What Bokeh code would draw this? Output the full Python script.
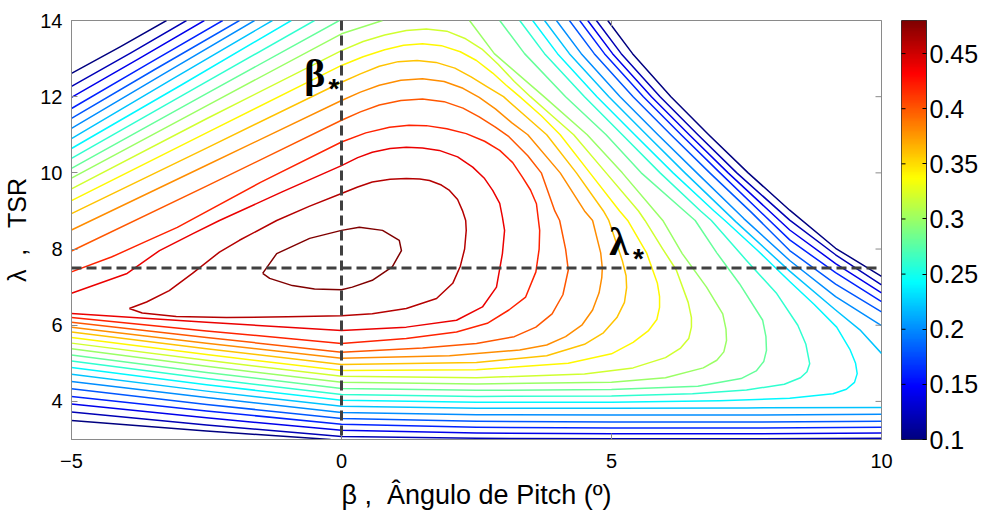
import math
import numpy as np
from bokeh.plotting import figure
from bokeh.layouts import row
from bokeh.models import (Span, Label, LinearColorMapper, FixedTicker,
                          CustomJSTickFormatter, Range1d)
from bokeh.embed import file_html
from bokeh.resources import INLINE

# ---------------- data ----------------
levels = [0.10, 0.12, 0.14, 0.16, 0.18, 0.20, 0.22, 0.24, 0.26, 0.28,
          0.30, 0.32, 0.34, 0.36, 0.38, 0.40, 0.42, 0.44, 0.46, 0.48]
x_ticks = [-5, 0, 5, 10]
y_ticks = [4, 6, 8, 10, 12, 14]
cbar_ticks = [0.1, 0.15, 0.2, 0.25, 0.3, 0.35, 0.4, 0.45]
beta_star = 0.0
lambda_star = 7.5

# contour paths per level: lists of (beta, lambda) points
cp_010 = [
    [(-5.0, 12.61), (-4.1, 13.31), (-3.24, 14.0)],
    [(4.93, 14.0), (5.39, 13.13), (6.10, 12.0), (6.80, 11.0), (7.53, 10.0), (8.30, 9.02),
     (9.15, 8.02), (10.0, 7.28)],
    [(-5.0, 3.50), (-2.5, 3.22), (-0.2, 3.0)],
]
cp_012 = [
    [(-5.0, 12.27), (-3.9, 13.15), (-2.87, 14.0)],
    [(4.72, 14.0), (5.18, 13.13), (5.90, 12.0), (6.60, 11.0), (7.32, 10.0), (8.30, 8.76),
     (9.15, 7.85), (10.0, 7.06)],
    [(-5.0, 3.72), (-2.5, 3.38), (0.0, 3.08), (2.5, 3.03), (5.0, 3.02), (7.5, 3.02), (10.0, 3.03)],
]
cp_014 = [
    [(-5.0, 11.98), (-3.75, 13.0), (-2.54, 14.0)],
    [(4.56, 14.0), (5.02, 13.13), (5.74, 12.0), (6.44, 11.0), (7.16, 10.0), (8.30, 8.50),
     (9.15, 7.62), (10.0, 6.85)],
    [(-5.0, 3.93), (-2.5, 3.57), (0.0, 3.24), (2.5, 3.17), (5.0, 3.15), (7.5, 3.15), (10.0, 3.17)],
]
cp_016 = [
    [(-5.0, 11.69), (-3.6, 12.85), (-2.20, 14.0)],
    [(4.41, 14.0), (4.87, 13.13), (5.59, 12.0), (6.29, 11.0), (7.01, 10.0), (8.30, 8.24),
     (9.15, 7.38), (10.0, 6.62)],
    [(-5.0, 4.13), (-2.5, 3.75), (0.0, 3.40), (2.5, 3.32), (5.0, 3.30), (7.5, 3.30), (10.0, 3.32)],
]
cp_018 = [
    [(-5.0, 11.43), (-3.45, 12.72), (-1.89, 14.0)],
    [(4.22, 14.0), (4.68, 13.13), (5.40, 12.0), (6.10, 11.0), (6.82, 10.0), (7.6, 8.95),
     (8.30, 7.96), (9.15, 7.08), (10.0, 6.35)],
    [(-5.0, 4.33), (-2.5, 3.92), (0.0, 3.55), (2.5, 3.48), (5.0, 3.46), (7.5, 3.46), (10.0, 3.48)],
]
cp_020 = [
    [(-5.0, 11.17), (-3.3, 12.59), (-1.61, 14.0)],
    [(3.98, 14.0), (4.44, 13.13), (5.16, 12.0), (5.86, 11.0), (6.58, 10.0), (7.45, 8.8),
     (8.30, 7.70), (9.15, 6.75), (10.0, 5.99)],
    [(-5.0, 4.52), (-2.5, 4.10), (0.0, 3.71), (2.5, 3.65), (5.0, 3.64), (7.5, 3.64), (10.0, 3.66)],
]
cp_022 = [
    [(-5.0, 10.90), (-3.15, 12.45), (-1.28, 14.0)],
    [(3.76, 14.0), (4.22, 13.13), (4.95, 12.0), (5.65, 11.0), (6.36, 10.0), (7.3, 8.72),
     (8.30, 7.42), (9.15, 6.40), (9.6, 5.88), (10.0, 5.26)],
    [(-5.0, 4.71), (-2.5, 4.27), (0.0, 3.87), (2.5, 3.82), (5.0, 3.82), (7.5, 3.83), (10.0, 3.84)],
]
cp_024 = [
    [(-5.0, 10.64), (-2.95, 12.32), (-0.93, 14.0)],
    [(3.54, 14.0), (4.00, 13.13), (4.73, 12.0), (5.43, 11.0), (6.14, 10.0), (6.90, 9.0),
     (7.10, 8.75), (7.70, 7.97), (8.30, 7.15), (8.75, 6.55), (9.17, 5.95), (9.42, 5.35),
     (9.52, 5.0), (9.55, 4.73), (9.50, 4.50), (9.35, 4.32), (9.10, 4.20), (8.30, 4.08),
     (7.0, 4.02), (5.0, 3.98), (2.5, 3.98), (0.0, 4.03), (-2.5, 4.44), (-5.0, 4.89)],
]
cp_026 = [
    [(-5.0, 10.38), (-2.75, 12.19), (-0.50, 14.0)],
    [(3.30, 14.0), (3.76, 13.13), (4.50, 12.0), (5.20, 11.0), (5.90, 10.0), (6.65, 9.0),
     (6.85, 8.75), (7.50, 7.70), (8.06, 6.83), (8.45, 6.0), (8.60, 5.50), (8.67, 4.99),
     (8.62, 4.78), (8.50, 4.62), (8.20, 4.45), (7.50, 4.30), (6.50, 4.20), (5.0, 4.14),
     (2.5, 4.13), (0.0, 4.18), (-2.5, 4.60), (-5.0, 5.06)],
]
cp_028 = [
    [(-5.0, 10.12), (-2.5, 12.08), (-0.04, 14.0)],
    [(2.93, 14.0), (3.39, 13.13), (4.15, 12.0), (4.90, 11.0), (5.55, 10.0), (6.35, 9.0),
     (6.55, 8.75), (6.95, 7.90), (7.37, 7.09), (7.80, 6.13), (7.86, 5.70), (7.87, 5.34),
     (7.82, 5.05), (7.68, 4.80), (7.40, 4.60), (6.60, 4.40), (5.0, 4.31), (2.5, 4.29),
     (0.0, 4.34), (-2.5, 4.76), (-5.0, 5.22)],
]
cp_030 = [
    [(-5.0, 9.86), (-2.5, 11.76), (0.0, 13.65), (0.76, 14.0)],
    [(2.37, 14.0), (2.83, 13.13), (3.75, 12.0), (4.55, 11.0), (5.20, 10.0), (5.80, 9.0),
     (5.95, 8.75), (6.31, 7.88), (6.76, 7.0), (7.06, 6.30), (7.12, 5.90), (7.13, 5.60),
     (7.08, 5.30), (6.95, 5.08), (6.70, 4.88), (6.0, 4.62), (5.0, 4.50), (2.5, 4.46),
     (0.0, 4.50), (-2.5, 4.92), (-5.0, 5.38)],
]
cp_032 = [
    [(-5.0, 9.58), (-2.5, 11.42), (0.0, 13.21), (0.4, 13.45), (0.8, 13.62), (1.2, 13.74),
     (1.57, 13.78), (1.95, 13.72), (2.3, 13.52), (2.6, 13.25), (2.9, 12.85), (3.2, 12.4),
     (3.5, 12.0), (3.9, 11.5), (4.3, 11.0), (4.9, 10.0), (5.5, 9.0), (5.62, 8.75),
     (5.95, 8.0), (6.2, 7.45), (6.42, 6.6), (6.48, 6.2), (6.48, 5.95), (6.43, 5.65),
     (6.28, 5.40), (6.0, 5.15), (5.4, 4.88), (4.5, 4.72), (2.5, 4.62), (0.0, 4.66),
     (-2.5, 5.08), (-5.0, 5.53)],
]
cp_034 = [
    [(-5.0, 9.27), (-2.5, 11.05), (0.0, 12.82), (0.4, 13.05), (0.8, 13.23), (1.15, 13.35),
     (1.5, 13.39), (1.85, 13.34), (2.2, 13.18), (2.5, 12.95), (2.8, 12.62), (3.05, 12.3),
     (3.3, 12.0), (3.7, 11.5), (4.05, 11.0), (4.6, 10.0), (5.15, 9.0), (5.3, 8.75),
     (5.65, 7.9), (5.85, 7.1), (5.89, 6.75), (5.89, 6.47), (5.84, 6.15), (5.68, 5.85),
     (5.4, 5.55), (5.0, 5.25), (4.2, 5.0), (2.5, 4.83), (0.0, 4.81), (-2.5, 5.23),
     (-5.0, 5.68)],
]
cp_036 = [
    [(-5.0, 8.93), (-2.5, 10.65), (0.0, 12.38), (0.35, 12.6), (0.7, 12.8), (1.05, 12.92),
     (1.4, 12.95), (1.75, 12.9), (2.1, 12.75), (2.4, 12.52), (2.7, 12.26), (3.0, 12.0),
     (3.4, 11.5), (3.8, 11.0), (4.35, 10.0), (4.85, 9.0), (4.95, 8.75), (5.2, 7.7),
     (5.27, 7.3), (5.28, 6.99), (5.24, 6.6), (5.1, 6.2), (4.85, 5.8), (4.5, 5.5),
     (3.8, 5.2), (2.5, 5.02), (0.0, 4.97), (-2.5, 5.38), (-5.0, 5.82)],
]
cp_038 = [
    [(-5.0, 8.50), (-2.5, 10.2), (0.0, 11.9), (0.35, 12.12), (0.7, 12.3), (1.1, 12.43),
     (1.5, 12.47), (1.9, 12.4), (2.25, 12.22), (2.55, 11.98), (2.85, 11.68), (3.15, 11.32),
     (3.45, 11.0), (4.05, 10.0), (4.5, 9.0), (4.65, 8.75), (4.8, 7.9), (4.83, 7.5),
     (4.82, 7.25), (4.77, 6.85), (4.65, 6.4), (4.45, 6.0), (4.15, 5.7), (3.8, 5.48),
     (3.3, 5.35), (2.0, 5.2), (0.0, 5.13), (-2.5, 5.53), (-5.0, 5.95)],
]
cp_040 = [
    [(-5.0, 7.95), (-2.5, 9.65), (0.0, 11.38), (0.35, 11.6), (0.7, 11.78), (1.1, 11.9),
     (1.5, 11.94), (1.9, 11.87), (2.25, 11.7), (2.55, 11.47), (2.85, 11.2), (3.1, 10.95),
     (3.45, 10.45), (3.7, 10.0), (3.95, 9.0), (4.04, 8.75), (4.15, 8.0), (4.2, 7.45),
     (4.1, 6.8), (3.9, 6.3), (3.6, 5.95), (3.2, 5.7), (2.5, 5.52), (1.5, 5.4),
     (0.0, 5.29), (-2.5, 5.68), (-5.0, 6.08)],
]
cp_042 = [
    [(-5.0, 7.40), (-4.26, 7.79), (-3.65, 8.18), (-3.04, 8.57), (-1.5, 9.75), (0.0, 10.81),
     (0.45, 11.05), (0.89, 11.2), (1.25, 11.25), (1.57, 11.24), (1.95, 11.16), (2.31, 11.03),
     (2.65, 10.83), (2.93, 10.59), (3.17, 10.27), (3.35, 9.89), (3.5, 9.55), (3.61, 9.19),
     (3.67, 8.49), (3.66, 8.0), (3.6, 7.4), (3.41, 6.74), (3.1, 6.4), (2.7, 6.05),
     (2.13, 5.82), (1.2, 5.65), (0.0, 5.52), (-2.5, 5.85), (-5.0, 6.20)],
]
cp_044 = [
    [(-5.0, 6.84), (-3.97, 7.36), (-3.37, 7.96), (-2.76, 8.4), (-2.26, 8.75), (-1.1, 9.5),
     (0.0, 10.19), (0.3, 10.4), (0.57, 10.54), (0.9, 10.64), (1.2, 10.67), (1.5, 10.65),
     (1.81, 10.59), (2.15, 10.42), (2.43, 10.15), (2.65, 9.85), (2.8, 9.54), (2.93, 9.2),
     (2.98, 8.84), (3.02, 8.49), (2.98, 7.88), (2.87, 7.0), (2.61, 6.48), (2.13, 6.13),
     (1.2, 5.95), (0.0, 5.86), (-2.5, 6.08), (-5.0, 6.31)],
]
cp_046 = [
    [(-3.93, 6.44), (-3.61, 6.61), (-3.19, 6.91), (-2.76, 7.36), (-2.26, 7.92), (-1.89, 8.23),
     (-1.2, 8.75), (-0.6, 9.12), (0.0, 9.46), (0.3, 9.63), (0.57, 9.76), (0.9, 9.83),
     (1.2, 9.85), (1.45, 9.84), (1.63, 9.8), (1.85, 9.68), (2.0, 9.54), (2.15, 9.3),
     (2.24, 9.01), (2.3, 8.75), (2.31, 8.49), (2.28, 8.0), (2.2, 7.55), (2.06, 7.1),
     (1.76, 6.7), (1.2, 6.44), (0.57, 6.3), (0.0, 6.25), (-1.0, 6.22), (-2.13, 6.2),
     (-3.06, 6.23), (-3.69, 6.32), (-3.93, 6.44)],
]
cp_048 = [
    [(-1.46, 7.36), (-1.2, 7.88), (-0.59, 8.28), (0.0, 8.49), (0.33, 8.57), (0.76, 8.49),
     (1.07, 8.23), (1.11, 7.96), (0.94, 7.53), (0.57, 7.18), (0.2, 7.0), (0.0, 6.93),
     (-0.5, 6.95), (-0.91, 7.04), (-1.33, 7.23), (-1.46, 7.36)],
]

contours = [cp_010, cp_012, cp_014, cp_016, cp_018, cp_020, cp_022, cp_024, cp_026, cp_028,
            cp_030, cp_032, cp_034, cp_036, cp_038, cp_040, cp_042, cp_044, cp_046, cp_048]

# ---------------- styling helpers ----------------
C_LOW, C_HIGH = 0.1, 0.48


def jet(f):
    f = min(max(f, 0.0), 1.0)
    r = min(max(1.5 - abs(4 * f - 3), 0.0), 1.0)
    g = min(max(1.5 - abs(4 * f - 2), 0.0), 1.0)
    b = min(max(1.5 - abs(4 * f - 1), 0.0), 1.0)
    return "#%02x%02x%02x" % (int(round(r * 255)), int(round(g * 255)), int(round(b * 255)))


jet256 = [jet(i / 255) for i in range(256)]

FONT = "Liberation Sans"
GRAY = "#8a8a8a"
FRAME_H = 419
TOP = 20
NB = "\u00a0"

# ---------------- main contour figure ----------------
p = figure(x_range=Range1d(-5, 10), y_range=Range1d(3, 14),
           frame_width=810, frame_height=FRAME_H,
           min_border_left=64, min_border_top=TOP, min_border_right=20, min_border_bottom=0,
           output_backend="svg", toolbar_location=None)
p.grid.visible = False
p.outline_line_color = GRAY
p.background_fill_color = "white"
p.border_fill_color = "white"

xs, ys, cols = [], [], []
for lev, segs in zip(levels, contours):
    col = jet((lev - C_LOW) / (C_HIGH - C_LOW))
    for seg in segs:
        xs.append([pt[0] for pt in seg])
        ys.append([pt[1] for pt in seg])
        cols.append(col)
p.multi_line(xs=xs, ys=ys, line_color=cols, line_width=1.5, line_join="round")

# mirrored inner ticks on top and right (MATLAB box style)
p.scatter(x=x_ticks, y=[p.y_range.end] * len(x_ticks), marker="dash", angle=math.pi / 2,
          size=12, line_color=GRAY, line_width=1)
p.scatter(x=[p.x_range.end] * len(y_ticks), y=y_ticks, marker="dash",
          size=12, line_color=GRAY, line_width=1)

# dashed optimum lines
p.add_layout(Span(location=beta_star, dimension="height", line_color="#404040",
                  line_width=3, line_dash="10 5"))
p.add_layout(Span(location=lambda_star, dimension="width", line_color="#404040",
                  line_width=3, line_dash="10 5"))

# axes
for ax in (p.xaxis[0], p.yaxis[0]):
    ax.axis_line_color = GRAY
    ax.major_tick_line_color = GRAY
    ax.major_tick_in = 6
    ax.major_tick_out = 0
    ax.minor_tick_line_color = None
    ax.major_label_text_font = FONT
    ax.major_label_text_font_size = "20px"
    ax.major_label_text_color = "black"
    ax.axis_label_text_font = FONT
    ax.axis_label_text_font_style = "normal"
    ax.axis_label_text_color = "black"
p.xaxis[0].ticker = FixedTicker(ticks=x_ticks)
p.yaxis[0].ticker = FixedTicker(ticks=y_ticks)
p.xaxis[0].major_label_standoff = 14
p.yaxis[0].major_label_standoff = 9
p.xaxis[0].axis_label = "β" + NB + "," + NB + NB + "Ângulo de Pitch (º)"
p.xaxis[0].axis_label_text_font_size = "27px"
p.xaxis[0].axis_label_standoff = 9
p.yaxis[0].axis_label = "λ" + NB + NB + "," + NB + NB + NB + "TSR"
p.yaxis[0].axis_label_text_font_size = "25px"
p.yaxis[0].axis_label_standoff = 6

# optimum labels
p.add_layout(Label(x=-0.69, y=12.6, text="β", text_font="Liberation Serif",
                   text_font_size="40px", text_font_style="bold", text_baseline="middle",
                   text_color="black"))
p.add_layout(Label(x=-0.24, y=12.22, text="*", text_font="Liberation Sans",
                   text_font_size="28px", text_font_style="bold", text_baseline="middle",
                   text_color="black"))
p.add_layout(Label(x=4.96, y=8.2, text="λ", text_font="Liberation Serif",
                   text_font_size="40px", text_font_style="bold", text_baseline="middle",
                   text_color="black"))
p.add_layout(Label(x=5.40, y=7.76, text="*", text_font="Liberation Sans",
                   text_font_size="28px", text_font_style="bold", text_baseline="middle",
                   text_color="black"))

# ---------------- colour bar (as its own small figure) ----------------
mapper = LinearColorMapper(palette=jet256, low=C_LOW, high=C_HIGH)
n_steps = len(jet256)
grad = np.array([[C_LOW + (C_HIGH - C_LOW) * (k + 0.5) / n_steps] for k in range(n_steps)],
                dtype=float)

cb = figure(x_range=Range1d(0, 1), y_range=Range1d(C_LOW, C_HIGH),
            frame_width=25, frame_height=FRAME_H, y_axis_location="right",
            min_border_left=0, min_border_top=TOP, min_border_right=0, min_border_bottom=20,
            output_backend="svg", toolbar_location=None)
cb.grid.visible = False
cb.xaxis.visible = False
cb.outline_line_color = "#303030"
cb.image(image=[grad], x=0, y=C_LOW, dw=1, dh=C_HIGH - C_LOW, color_mapper=mapper)
cb.scatter(x=[0] * len(cbar_ticks), y=cbar_ticks, marker="dash", size=8,
           line_color="black", line_width=1)
cya = cb.yaxis[0]
cya.ticker = FixedTicker(ticks=cbar_ticks)
cya.formatter = CustomJSTickFormatter(code="return String(Math.round(tick*100)/100);")
cya.axis_line_color = "#303030"
cya.major_tick_line_color = "black"
cya.major_tick_in = 4
cya.major_tick_out = 0
cya.minor_tick_line_color = None
cya.major_label_standoff = 3
cya.major_label_text_font = FONT
cya.major_label_text_font_size = "25px"
cya.major_label_text_color = "black"

layout = row(p, cb)
open("out.html", "w").write(file_html(layout, INLINE))
